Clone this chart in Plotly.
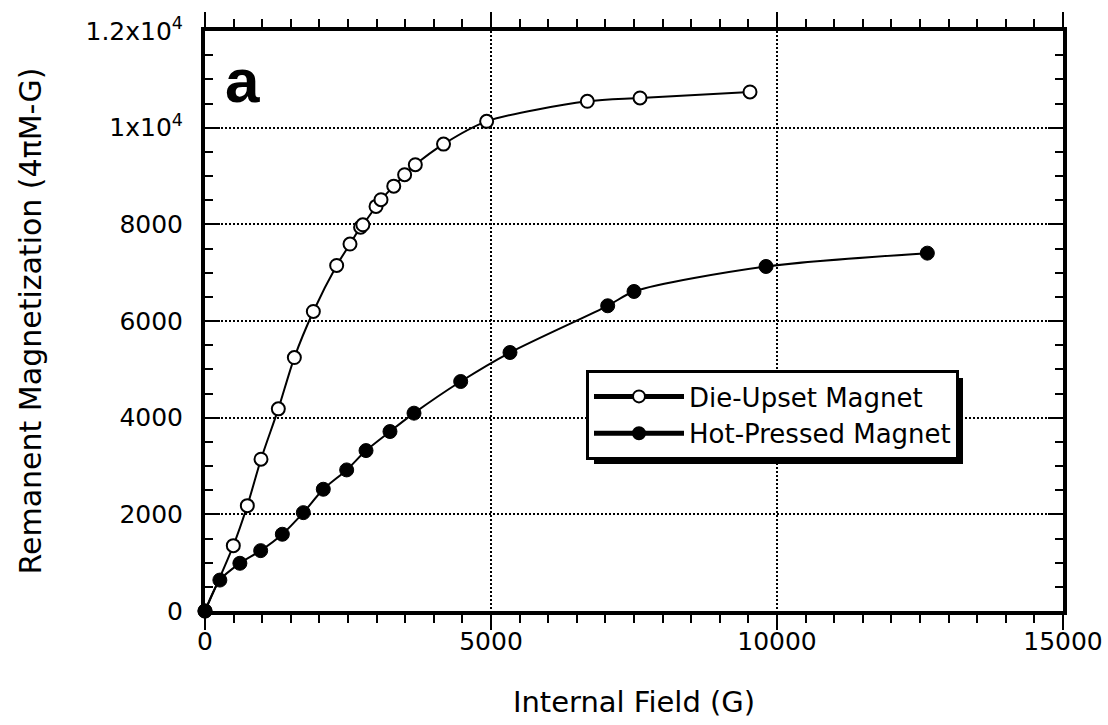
import plotly.graph_objects as go

# ---- data ----
die_upset_field = [0, 495, 740, 979, 1282, 1562, 1894, 2302, 2535, 2720, 2760, 2990, 3077,
                   3300, 3490, 3677, 4170, 4924, 6684, 7605, 9528]
die_upset_mag = [0, 1352, 2180, 3141, 4182, 5244, 6197, 7149, 7592, 7940, 7990, 8371, 8509,
                 8790, 9027, 9234, 9660, 10131, 10545, 10615, 10739]

hot_pressed_field = [0, 260, 610, 973, 1352, 1719, 2068, 2477, 2815, 3234, 3654, 4470, 5332,
                     7040, 7500, 9808, 12628]
hot_pressed_mag = [0, 640, 987, 1249, 1588, 2035, 2519, 2919, 3319, 3713, 4093, 4748, 5348,
                   6315, 6611, 7128, 7404]

x_ticks = [0, 5000, 10000, 15000]
x_ticklabels = ["0", "5000", "10000", "15000"]
y_ticks = [0, 2000, 4000, 6000, 8000, 10000, 12000]
y_ticklabels = ["0", "2000", "4000", "6000", "8000", "1x10<sup>4</sup>", "1.2x10<sup>4</sup>"]

series_names = ["Die-Upset Magnet", "Hot-Pressed Magnet"]

# ---- layout constants (pixels) ----
W, H = 1108, 725
ML, MR, MT, MB = 205, 45, 31, 114
PW, PH = W - ML - MR, H - MT - MB
FONT = "DejaVu Sans"


def fx(px):
    return (px - ML) / PW


def fy(py):
    return (H - MB - py) / PH


LEG_L, LEG_T = 586, 370
# rendered legend box edges (for the drop shadow)
BOX_L, BOX_T, BOX_R, BOX_B = 588, 372, 957, 458
SHADOW = 6

fig = go.Figure()
fig.add_trace(go.Scatter(
    x=die_upset_field, y=die_upset_mag, name=series_names[0], mode="lines+markers",
    line=dict(color="black", width=2, shape="spline", smoothing=0.8),
    marker=dict(symbol="circle", size=13, color="white", line=dict(color="black", width=2)),
    cliponaxis=False,
))
fig.add_trace(go.Scatter(
    x=hot_pressed_field, y=hot_pressed_mag, name=series_names[1], mode="lines+markers",
    line=dict(color="black", width=2, shape="spline", smoothing=0.8),
    marker=dict(symbol="circle", size=14, color="black", line=dict(color="black", width=1)),
    cliponaxis=False,
))

axis_common = dict(
    showline=True, linecolor="black", linewidth=4, mirror="ticks",
    showgrid=True, gridcolor="black", gridwidth=2, griddash="2px,2px",
    zeroline=False, tickcolor="black", tickwidth=2, ticklen=15,
    tickfont=dict(family=FONT, size=25, color="black"),
    automargin=False,
)

fig.update_xaxes(
    range=[0, 15000], tickvals=x_ticks, ticktext=x_ticklabels, ticks="outside",
    minor=dict(dtick=500, ticks="outside", ticklen=8, tickwidth=2, tickcolor="black", showgrid=False),
    title=dict(text="Internal Field (G)", font=dict(family=FONT, size=29, color="black"), standoff=38),
    ticklabelstandoff=-10,
    **axis_common,
)
fig.update_yaxes(
    range=[0, 12000], tickvals=y_ticks, ticktext=y_ticklabels, ticks="inside",
    minor=dict(dtick=500, ticks="inside", ticklen=8, tickwidth=2, tickcolor="black", showgrid=False),
    title=dict(text="Remanent Magnetization (4πM-G)", font=dict(family=FONT, size=30, color="black"),
               standoff=36),
    ticklabelstandoff=13,
    **axis_common,
)

fig.add_annotation(
    x=660, y=10970, xref="x", yref="y", text="<b>a</b>", showarrow=False,
    font=dict(family="Liberation Sans, Arial", size=62, color="black"),
    xanchor="center", yanchor="middle",
)

fig.add_shape(
    type="rect", xref="paper", yref="paper",
    x0=fx(BOX_L + SHADOW), x1=fx(BOX_R + SHADOW), y0=fy(BOX_B + SHADOW), y1=fy(BOX_T + SHADOW),
    fillcolor="black", line=dict(width=0), layer="above",
)

fig.update_layout(
    width=W, height=H, autosize=False,
    margin=dict(l=ML, r=MR, t=MT, b=MB),
    paper_bgcolor="white", plot_bgcolor="white",
    showlegend=True,
    legend=dict(
        x=fx(LEG_L), y=fy(LEG_T), xanchor="left", yanchor="top",
        bgcolor="white", bordercolor="black", borderwidth=3,
        font=dict(family=FONT, size=26, color="black"),
        itemwidth=90, itemsizing="constant",
    ),
)

fig.write_html(
    "out.html",
    config={"displayModeBar": False},
    post_script="document.body.style.margin='0';document.body.style.overflow='hidden';",
)
